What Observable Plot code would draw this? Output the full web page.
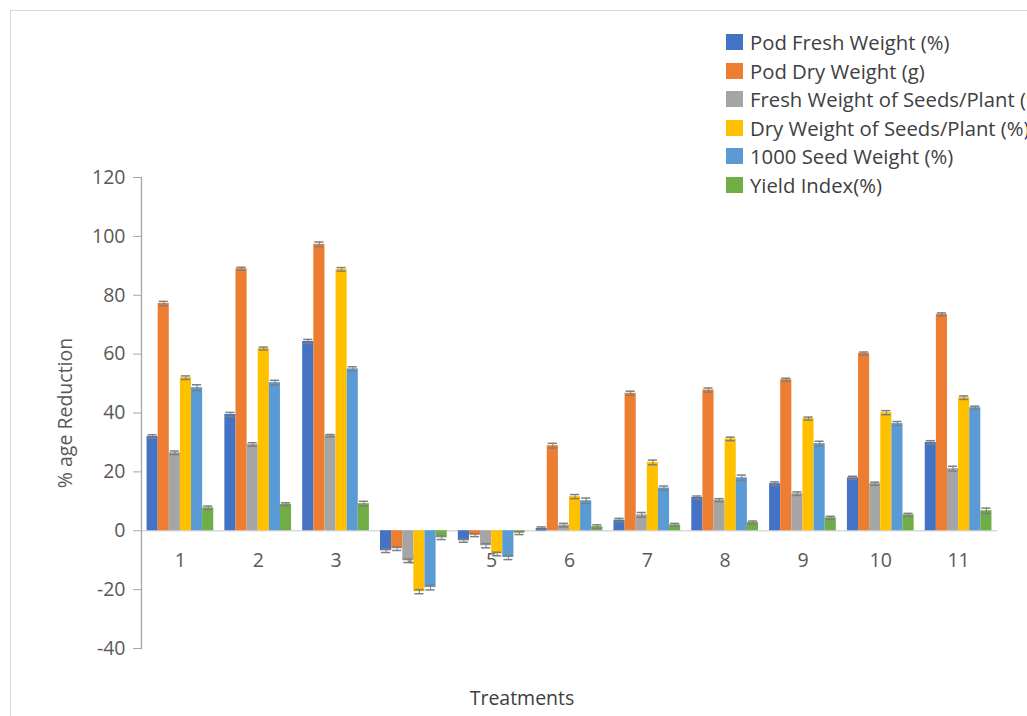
<!DOCTYPE html>
<html><head><meta charset="utf-8">
<script src="https://cdn.jsdelivr.net/npm/d3@7"></script>
<script src="https://cdn.jsdelivr.net/npm/@observablehq/plot@0.6"></script>
<style>
body{margin:0;background:#fff;}
#wrap{position:relative;width:1027px;height:716px;overflow:hidden;font-family:"Open Sans",sans-serif;}
#frame{position:absolute;left:10px;top:10px;width:1100px;height:800px;border:1px solid #d9d9d9;box-sizing:border-box;}
#chart{position:absolute;left:0;top:0;}
#legend{position:absolute;left:726px;top:27.7px;color:#404040;font-size:20.3px;white-space:nowrap;}
#legend .row{height:28.6px;display:flex;align-items:center;}
#legend .sw{width:17px;height:16px;margin-right:7px;flex:none;}
#xlabel{position:absolute;left:0;width:1044px;top:684px;text-align:center;color:#404040;font-size:19.5px;}
</style></head>
<body><div id="wrap"><div id="frame"></div><div id="chart"></div><div id="legend"></div><div id="xlabel">Treatments</div></div>
<script>
const treatments = ["1","2","3","4","5","6","7","8","9","10","11"];
const seriesNames = ["Pod Fresh Weight (%)","Pod Dry Weight (g)","Fresh Weight of Seeds/Plant (%)","Dry Weight of Seeds/Plant (%)","1000 Seed Weight (%)","Yield Index(%)"];
const colors = ["#4472C4","#ED7D31","#A5A5A5","#FFC000","#5B9BD5","#70AD47"];
const podFresh   = [32.0, 39.5, 64.3, -6.8, -3.4, 0.8, 3.6, 11.3, 16.0, 18.0, 30.0];
const podDry     = [77.2, 89.0, 97.3, -6.1, -1.5, 28.9, 46.7, 47.8, 51.3, 60.2, 73.5];
const freshSeeds = [26.5, 29.3, 32.3, -10.2, -5.1, 1.9, 5.4, 10.4, 12.6, 16.0, 21.1];
const drySeeds   = [52.0, 61.9, 88.8, -20.7, -7.9, 11.6, 23.2, 31.2, 38.1, 40.1, 45.2];
const seed1000   = [48.6, 50.3, 55.0, -19.3, -9.1, 10.2, 14.5, 18.0, 29.6, 36.4, 41.8];
const yieldIdx   = [7.8, 9.0, 9.2, -2.4, -0.8, 1.4, 2.0, 2.8, 4.4, 5.4, 6.8];
const errFresh   = [0.6, 0.7, 0.7, 0.6, 0.5, 0.5, 0.6, 0.5, 0.6, 0.5, 0.6];
const errDry     = [0.7, 0.5, 0.8, 0.6, 0.5, 0.8, 0.7, 0.7, 0.5, 0.5, 0.5];
const errFreshS  = [0.6, 0.6, 0.4, 0.6, 0.7, 0.6, 0.8, 0.5, 0.6, 0.5, 0.8];
const errDryS    = [0.6, 0.5, 0.6, 0.7, 0.6, 0.7, 0.8, 0.6, 0.5, 0.7, 0.6];
const errSeed    = [1.0, 0.8, 0.7, 0.8, 0.7, 0.9, 0.7, 0.9, 0.8, 0.7, 0.5];
const errYield   = [0.6, 0.5, 0.8, 0.6, 0.5, 0.6, 0.5, 0.5, 0.5, 0.5, 0.9];
const yTicks = [-40, -20, 0, 20, 40, 60, 80, 100, 120];

const values = [podFresh, podDry, freshSeeds, drySeeds, seed1000, yieldIdx];
const errs = [errFresh, errDry, errFreshS, errDryS, errSeed, errYield];
const data = [];
treatments.forEach((t, i) => seriesNames.forEach((s, j) => data.push({t, s, v: values[j][i], e: errs[j][i]})));

const errColor = "#7f7f7f";
const plot = Plot.plot({
  width: 1027, height: 716,
  marginLeft: 141, marginRight: 30, marginTop: 177, marginBottom: 68,
  style: {fontFamily: "Open Sans, sans-serif", fontSize: "19.5px", color: "#595959", background: "transparent", overflow: "visible"},
  fx: {domain: treatments, padding: 0, round: false, axis: null},
  x: {domain: seriesNames, paddingInner: 0, paddingOuter: 0.5, round: false, axis: null},
  y: {domain: [-40, 120]},
  color: {domain: seriesNames, range: colors},
  marks: [
    Plot.ruleY([0], {stroke: "#d9d9d9", strokeWidth: 1.3}),
    Plot.text(treatments, {fx: d => d, y: d => 0, text: d => d, dy: 30, fill: "#595959", fontSize: 19.5}),
    Plot.barY(data, {fx: "t", x: "s", y: "v", fill: "s"}),
    Plot.ruleX(data, {fx: "t", x: "s", y1: d => d.v - d.e, y2: d => d.v + d.e, stroke: errColor}),
    Plot.tickY(data, {fx: "t", x: "s", y: d => d.v + d.e, stroke: errColor, strokeWidth: 1.5, inset: 1}),
    Plot.tickY(data, {fx: "t", x: "s", y: d => d.v - d.e, stroke: errColor, strokeWidth: 1.5, inset: 1}),
    Plot.axisY({ticks: yTicks, tickSize: 8, tickPadding: 8, tickFormat: d => String(d), stroke: "#a6a6a6", fill: "#595959",
      label: "% age Reduction", labelAnchor: "center", labelArrow: "none", labelOffset: 83, fontSize: 19.5}),
    Plot.frame({anchor: "left", stroke: "#a6a6a6", strokeWidth: 1.3, facetAnchor: "left"})
  ]
});
document.getElementById("chart").appendChild(plot);

const legend = document.getElementById("legend");
seriesNames.forEach((s, j) => {
  const row = document.createElement("div");
  row.className = "row";
  const sw = document.createElement("span");
  sw.className = "sw";
  sw.style.background = colors[j];
  const tx = document.createElement("span");
  tx.textContent = s;
  row.appendChild(sw); row.appendChild(tx);
  legend.appendChild(row);
});
</script></body></html>
